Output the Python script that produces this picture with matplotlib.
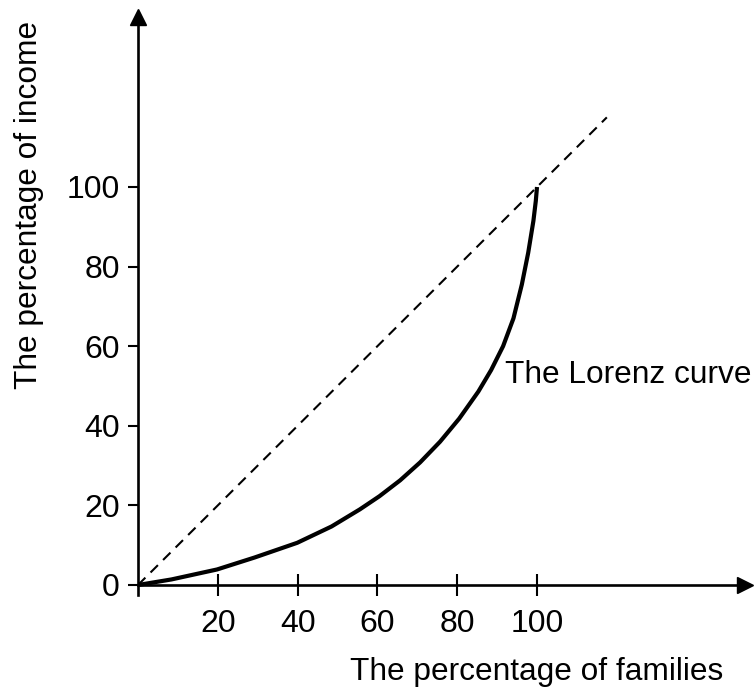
import matplotlib
matplotlib.use("Agg")
import matplotlib.pyplot as plt

plt.rcParams['font.family'] = ['Liberation Sans', 'DejaVu Sans']

# Lorenz curve
families = [0, 8.4, 19.8, 29.2, 39.9, 48.5, 55.6, 60.5, 65.7, 70.7, 75.7,
            80.5, 85.3, 88.5, 91.5, 94.1, 96.2, 97.8, 99.1, 99.7, 100]
income = [0, 1.4, 3.9, 6.9, 10.6, 14.7, 19.0, 22.3, 26.3, 30.8, 36.0,
          41.8, 48.6, 54.0, 60.0, 67.0, 75.5, 83.5, 91.5, 96.5, 100]

# line of equality (dashed)
equal_x = [0, 117.5]
equal_y = [0, 117.5]

x_ticks = [20, 40, 60, 80, 100]
y_ticks = [0, 20, 40, 60, 80, 100]

W, H = 754, 691
fig = plt.figure(figsize=(W / 100, H / 100), dpi=100)

# pixel layout of the axes
px_left, px_right = 138, 745
px_top, px_bottom = 17, 595
x0_px, y0_px = 138, 585
sx, sy = 3.99, 3.98

ax = fig.add_axes([px_left / W, (H - px_bottom) / H,
                   (px_right - px_left) / W, (px_bottom - px_top) / H])
ax.set_xlim(0, (px_right - x0_px) / sx)
ax.set_ylim(-(px_bottom - y0_px) / sy, (y0_px - px_top) / sy)

ax.spines['top'].set_visible(False)
ax.spines['right'].set_visible(False)
ax.spines['bottom'].set_position(('data', 0))
for s in ['left', 'bottom']:
    ax.spines[s].set_linewidth(1.9)

ax.plot(equal_x, equal_y, color='black', lw=1.5, dashes=(5, 3.5))
ax.plot(families, income, color='black', lw=3, solid_capstyle='butt',
        solid_joinstyle='round')

# arrow heads
ax.plot(1, 0, '>k', ms=12, transform=ax.get_yaxis_transform(), clip_on=False)
ax.plot(0, 1, '^k', ms=12, transform=ax.get_xaxis_transform(), clip_on=False)

ax.set_xticks(x_ticks)
ax.set_yticks(y_ticks)
ax.tick_params(axis='x', direction='inout', length=16, width=1.5,
               labelsize=23, pad=9)
ax.tick_params(axis='y', direction='out', length=7, width=1.5,
               labelsize=23, pad=6)

ax.text(92, 52.8, 'The Lorenz curve', fontsize=22.8, ha='left', va='center')

fig.text(537 / W, 1 - 672 / H, 'The percentage of families', fontsize=22.8,
         ha='center', va='center')
fig.text(29 / W, 1 - 205 / H, 'The percentage of income', fontsize=22.8,
         ha='center', va='center', rotation=90)

fig.savefig('out.png', dpi=100)
